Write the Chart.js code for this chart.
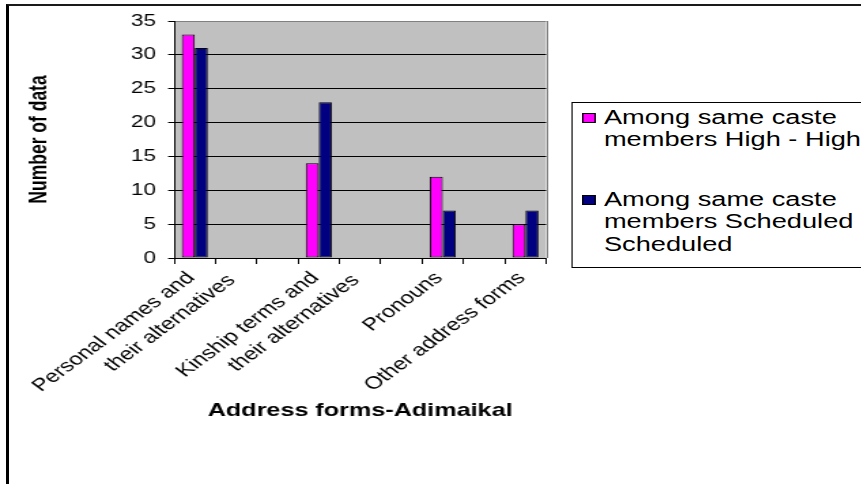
<!DOCTYPE html>
<html>
<head>
<meta charset="utf-8">
<title>Address forms-Adimaikal</title>
<script src="https://cdn.jsdelivr.net/npm/chart.js@4.4.1/dist/chart.umd.min.js"></script>
<style>
  html, body { margin: 0; padding: 0; background: #fff; overflow: hidden; }
  /* outer chart frame (only left and top edges fall inside the page) */
  #frame {
    position: absolute; left: 6px; top: 4px; width: 900px; height: 600px;
    border-left: 3px solid #000; border-top: 2px solid #1a1a1a;
  }
  /* the whole chart is drawn at 633px width and widened to the page */
  #stage {
    position: absolute; left: 0; top: 0; width: 633px; height: 484px;
    transform: scaleX(1.3602); transform-origin: 0 0; overflow: hidden;
  }
  #chart { position: absolute; left: 0; top: 0; }
  #legend {
    position: absolute; left: 420px; top: 102px; width: 300px; height: 166px;
    box-sizing: border-box; border: 1px solid #000; background: #fff;
    font: 20px "Liberation Sans", Arial, sans-serif; line-height: 22.5px; color: #000;
    padding-top: 2.8px;
  }
  #legend .item { position: relative; padding-left: 23px; width: 195px; margin-bottom: 37px; }
  #legend .sw {
    position: absolute; left: 7px; top: 7.5px; width: 10px; height: 10px;
    box-sizing: border-box; border: 1px solid #000;
  }
</style>
</head>
<body>
<div id="frame"></div>
<div id="stage">
  <canvas id="chart" width="633" height="484"></canvas>
  <div id="legend"></div>
</div>
<script>
// Category labels (the empty slots are unused positions on the axis)
const categories = [
  ['Personal names and', 'their alternatives'], '', '',
  ['Kinship terms and', 'their alternatives'], '', '',
  'Pronouns', '', 'Other address forms'
];
const highHigh = [33, null, null, 14, null, null, 12, null, 5];
const scheduledScheduled = [31, null, null, 23, null, null, 7, null, 7];
const seriesNames = [
  'Among same caste members High - High',
  'Among same caste members Scheduled Scheduled'
];
const seriesColors = ['#FF00FF', '#000080'];
const xTitle = 'Address forms-Adimaikal';
const yTitle = 'Number of data';
const yMin = 0, yMax = 35, yStep = 5;

const FAMILY = "'Liberation Sans', Arial, Helvetica, sans-serif";

// rotated labels: the first line is set slightly back from the second
const LEAD_PAD = '\u00a0\u00a0\u00a0\u00a0';
function tickLabel(value, index) {
  const lab = categories[index];
  if (Array.isArray(lab)) return [lab[0] + LEAD_PAD, ...lab.slice(1)];
  return lab ? lab + LEAD_PAD : lab;
}

// grey plot area and its right-hand edge
const plotFrame = {
  id: 'plotFrame',
  beforeDraw(chart) {
    const { ctx, chartArea: a } = chart;
    ctx.save();
    ctx.fillStyle = '#C0C0C0';
    ctx.fillRect(a.left, a.top, a.right - a.left, a.bottom - a.top);
    ctx.restore();
  },
  beforeDatasetsDraw(chart) {
    const { ctx, chartArea: a } = chart;
    ctx.save();
    ctx.strokeStyle = '#808080';
    ctx.lineWidth = 1;
    const x = Math.round(a.right) + 0.5;
    ctx.beginPath();
    ctx.moveTo(x, a.top);
    ctx.lineTo(x, a.bottom);
    ctx.stroke();
    ctx.restore();
  }
};

const chart = new Chart(document.getElementById('chart'), {
  type: 'bar',
  data: {
    labels: categories,
    datasets: [
      { label: seriesNames[0], data: highHigh, backgroundColor: seriesColors[0] },
      { label: seriesNames[1], data: scheduledScheduled, backgroundColor: seriesColors[1] }
    ]
  },
  options: {
    responsive: false,
    animation: false,
    devicePixelRatio: 1,
    layout: { padding: { left: 0, right: 231.5, top: 21, bottom: 0 } },
    datasets: {
      bar: {
        categoryPercentage: 0.63, barPercentage: 1,
        borderColor: '#000', borderWidth: 1, borderSkipped: false
      }
    },
    plugins: {
      legend: { display: false },
      tooltip: { enabled: false }
    },
    scales: {
      x: {
        grid: { display: true, drawOnChartArea: false, drawTicks: true, tickLength: 6, color: '#000', offset: true },
        border: { display: true, color: '#000', width: 1 },
        ticks: {
          autoSkip: false, minRotation: 45, maxRotation: 45,
          padding: -10.5, labelOffset: 11, color: '#000',
          font: { family: FAMILY, size: 17.5, lineHeight: 1.303 },
          callback: tickLabel
        },
        title: {
          display: true, text: xTitle, color: '#000',
          font: { family: FAMILY, size: 18.5, weight: 'bold' },
          padding: { top: 0, bottom: 62 }
        },
        afterFit(scale) { scale.height = 226; }
      },
      y: {
        min: yMin, max: yMax,
        ticks: { stepSize: yStep, padding: 9, color: '#000', font: { family: FAMILY, size: 16.5 } },
        grid: {
          color: c => (c.tick && c.tick.value === yMax) ? '#808080' : '#000',
          tickColor: '#000', tickLength: 4.4, drawTicks: true
        },
        border: { color: '#000', width: 1 },
        title: {
          display: true, text: yTitle, color: '#000',
          font: { family: FAMILY, size: 17.5, weight: 'bold' },
          padding: { top: 19, bottom: 0 }
        },
        afterFit(scale) { scale.width = 128; }
      }
    }
  },
  plugins: [plotFrame]
});

// legend box built from the chart's datasets
const legendEl = document.getElementById('legend');
chart.data.datasets.forEach(ds => {
  const item = document.createElement('div');
  item.className = 'item';
  const sw = document.createElement('span');
  sw.className = 'sw';
  sw.style.background = ds.backgroundColor;
  item.appendChild(sw);
  item.appendChild(document.createTextNode(ds.label));
  legendEl.appendChild(item);
});
</script>
</body>
</html>
